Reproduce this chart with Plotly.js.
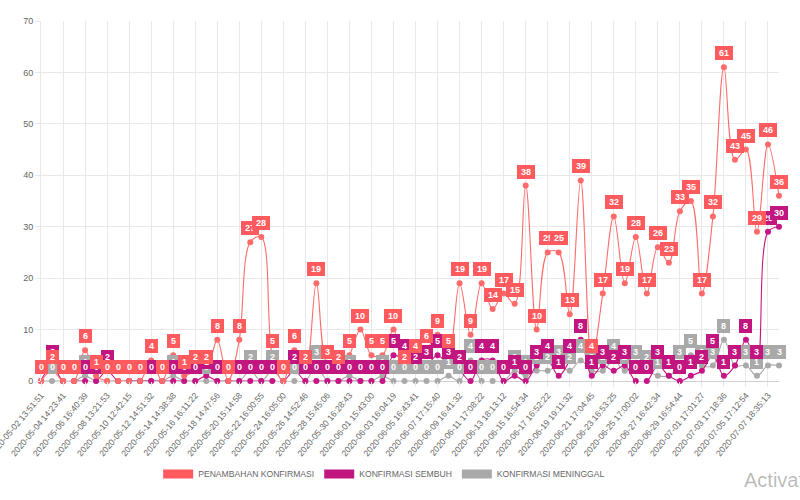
<!DOCTYPE html>
<html>
<head>
<meta charset="utf-8">
<script src="https://cdn.plot.ly/plotly-3.0.1.min.js"></script>
<style>html,body{margin:0;padding:0;background:#fff;}#chart{width:800px;height:500px;}</style>
</head>
<body>
<div id="chart"></div>
<script>
const categories = [
  "2020-05-02 13:51:51","2020-05-03","2020-05-04 14:23:41","2020-05-05","2020-05-06 16:40:39","2020-05-07",
  "2020-05-08 13:21:53","2020-05-09","2020-05-10 12:42:15","2020-05-11","2020-05-12 14:51:32","2020-05-13",
  "2020-05-14 14:38:38","2020-05-15","2020-05-16 16:11:22","2020-05-17","2020-05-18 14:47:56","2020-05-19",
  "2020-05-20 15:14:58","2020-05-21","2020-05-22 16:00:55","2020-05-23","2020-05-24 16:05:00","2020-05-25",
  "2020-05-26 14:52:46","2020-05-27","2020-05-28 15:45:06","2020-05-29","2020-05-30 16:28:43","2020-05-31",
  "2020-06-01 15:43:00","2020-06-02","2020-06-03 16:04:19","2020-06-04","2020-06-05 16:43:41","2020-06-06",
  "2020-06-07 17:15:40","2020-06-08","2020-06-09 16:41:32","2020-06-10","2020-06-11 17:08:22","2020-06-12",
  "2020-06-13 18:13:12","2020-06-14","2020-06-15 16:54:34","2020-06-16","2020-06-17 16:52:22","2020-06-18",
  "2020-06-19 19:11:32","2020-06-20","2020-06-21 17:04:45","2020-06-22","2020-06-23 16:53:25","2020-06-24",
  "2020-06-25 17:00:02","2020-06-26","2020-06-27 16:42:34","2020-06-28","2020-06-29 16:54:44","2020-06-30",
  "2020-07-01 17:01:27","2020-07-02","2020-07-03 17:18:36","2020-07-04","2020-07-05 17:12:54","2020-07-06",
  "2020-07-07 18:35:13","2020-07-08"
];

const penambahan = [0,2,0,0,6,1,0,0,0,0,4,0,5,1,2,2,8,0,8,27,28,5,0,6,2,19,3,2,5,10,5,5,10,2,4,6,9,5,19,9,19,14,17,15,38,10,25,25,13,39,4,17,32,19,28,17,26,23,33,35,17,32,61,43,45,29,46,36];
const sembuh     = [0,3,0,0,0,0,2,0,0,0,0,0,0,0,0,1,0,0,0,0,0,0,0,2,0,0,0,0,0,0,0,0,5,4,2,3,5,3,2,0,4,4,0,1,0,3,4,1,4,8,1,3,2,3,0,0,3,1,0,1,2,5,1,3,8,3,29,30];
const meninggal  = [0,0,0,0,1,0,0,0,0,0,0,0,1,0,0,0,0,0,0,2,0,2,0,0,0,3,0,0,1,0,0,1,0,0,0,0,0,1,0,4,0,0,0,2,1,2,2,3,2,4,2,2,4,2,3,2,1,1,3,5,3,3,8,3,3,1,3,3];

const seriesNames = ["PENAMBAHAN KONFIRMASI", "KONFIRMASI SEMBUH", "KONFIRMASI MENINGGAL"];
const yTicks = [0,10,20,30,40,50,60,70];

const tickVals = categories.filter((c, i) => i % 2 === 0);

const styles = [
  {line: "#ff6b6b", box: "#ff5a5e"},
  {line: "#c71585", box: "#c1157f"},
  {line: "#a9a9a9", box: "#a9a9a9"}
];
const seriesData = [penambahan, sembuh, meninggal];
const FONT = "Liberation Sans, Arial, Helvetica, sans-serif";

const traces = [];
// real traces: grey drawn first, red last (on top)
[2,1,0].forEach(s => {
  traces.push({
    type: "scatter", mode: "lines+markers",
    x: categories, y: seriesData[s], name: seriesNames[s],
    showlegend: false, cliponaxis: false, hoverinfo: "skip",
    line: {color: styles[s].line, width: 1.1, shape: "spline", smoothing: 1},
    marker: {color: styles[s].line, size: 6}
  });
});
// legend entries
[0,1,2].forEach(s => {
  traces.push({
    type: "scatter", mode: "lines", x: [null], y: [null], name: seriesNames[s],
    showlegend: true, line: {color: styles[s].box, width: 9}
  });
});

const annotations = [];
[2,1,0].forEach(s => {
  seriesData[s].forEach((v, i) => {
    const t = String(v);
    annotations.push({
      x: categories[i], y: v, xref: "x", yref: "y", text: "<b>" + t + "</b>",
      showarrow: false, yshift: 14, xanchor: "center", yanchor: "middle",
      bgcolor: styles[s].box, borderpad: 0, borderwidth: 0,
      width: t.length === 1 ? 13 : 18, height: 14,
      font: {family: FONT, size: 9, color: "#ffffff"}
    });
  });
});
annotations.push({
  xref: "paper", yref: "paper", x: (742 - 41) / 738, y: (389 - 490) / 368,
  xanchor: "left", yanchor: "middle", showarrow: false, text: "Activate Windows",
  font: {family: "Liberation Sans, Arial, sans-serif", size: 20, color: "rgba(0,0,0,0.28)"}
});

const layout = {
  width: 800, height: 500,
  margin: {l: 41, r: 21, t: 21, b: 111, pad: 0},
  paper_bgcolor: "#ffffff", plot_bgcolor: "#ffffff",
  showlegend: true,
  legend: {
    orientation: "h", x: 0.465, xanchor: "center", y: (389 - 484) / 368, yanchor: "middle",
    font: {family: FONT, size: 8.6, color: "#666666"}, itemwidth: 30, traceorder: "normal"
  },
  xaxis: {
    type: "category", range: [0, categories.length - 1],
    tickvals: tickVals, ticktext: tickVals, tickangle: -50,
    tickfont: {family: FONT, size: 8.6, color: "#666666"},
    showgrid: true, gridcolor: "#e8e8e8", gridwidth: 1,
    ticks: "outside", ticklen: 5, tickcolor: "#e8e8e8",
    showline: false, zeroline: false, automargin: false
  },
  yaxis: {
    range: [0, 70], tickvals: yTicks, ticktext: yTicks.map(String),
    tickfont: {family: FONT, size: 9, color: "#666666"},
    showgrid: true, gridcolor: "#e8e8e8", gridwidth: 1,
    ticks: "outside", ticklen: 5, tickcolor: "#e8e8e8",
    zeroline: true, zerolinecolor: "#d0d0d0", zerolinewidth: 1,
    showline: true, linecolor: "#e8e8e8", automargin: false
  },
  annotations: annotations
};

Plotly.newPlot("chart", traces, layout, {displayModeBar: false, staticPlot: true});
</script>
</body>
</html>
